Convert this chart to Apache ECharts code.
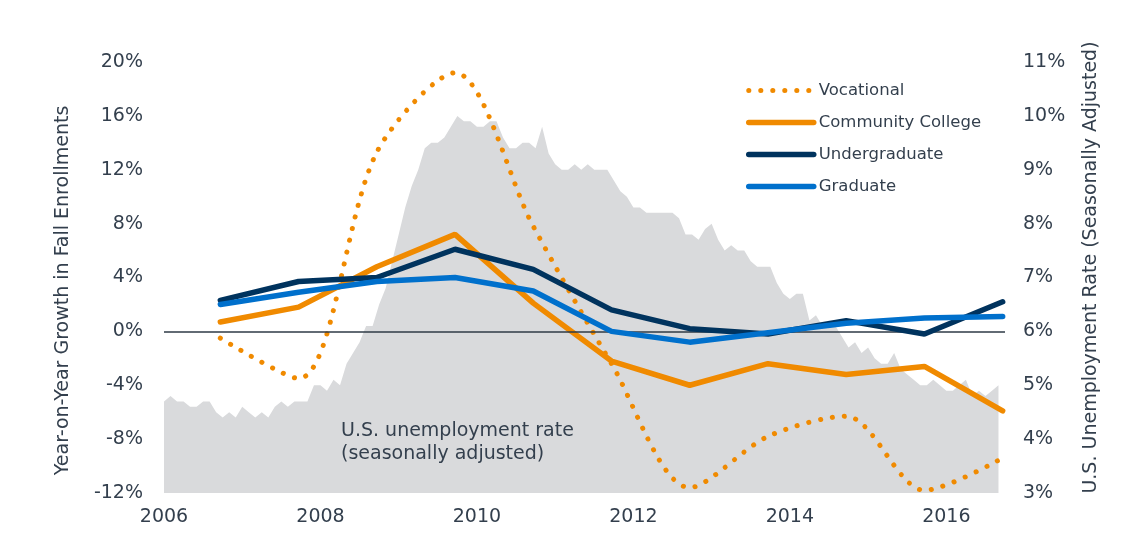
<!DOCTYPE html>
<html>
<head>
<meta charset="utf-8">
<script src="https://cdn.jsdelivr.net/npm/echarts@6/dist/echarts.min.js"></script>
<style>
  html, body { margin: 0; padding: 0; background: #fff; }
  #chart { width: 1134px; height: 538px; }
</style>
</head>
<body>
<div id="chart"></div>
<script>
'use strict';
// fall enrollment growth, one point per fall (Sept/Oct), %
const fallYears = [2006, 2007, 2008, 2009, 2010, 2011, 2012, 2013, 2014, 2015, 2016];
const vocational = [-0.5, -3.5, 13.3, 19.2, 7.8, -2.4, -11.6, -7.8, -6.3, -11.8, -9.4];
const communityCollege = [0.7, 1.8, 4.8, 7.2, 2.1, -2.2, -4.0, -2.4, -3.2, -2.6, -5.9];
const undergraduate = [2.3, 3.7, 4.0, 6.1, 4.6, 1.6, 0.2, -0.2, 0.8, -0.2, 2.2];
const graduate = [2.0, 2.9, 3.7, 4.0, 3.0, 0.0, -0.8, -0.1, 0.6, 1.0, 1.1];

// U.S. unemployment rate, seasonally adjusted, monthly from Jan 2006
const unempStartYear = 2006;
const unemployment = [
  4.7, 4.8, 4.7, 4.7, 4.6, 4.6, 4.7, 4.7, 4.5, 4.4, 4.5, 4.4,
  4.6, 4.5, 4.4, 4.5, 4.4, 4.6, 4.7, 4.6, 4.7, 4.7, 4.7, 5.0,
  5.0, 4.9, 5.1, 5.0, 5.4, 5.6, 5.8, 6.1, 6.1, 6.5, 6.8, 7.3,
  7.8, 8.3, 8.7, 9.0, 9.4, 9.5, 9.5, 9.6, 9.8, 10.0, 9.9, 9.9,
  9.8, 9.8, 9.9, 9.9, 9.6, 9.4, 9.4, 9.5, 9.5, 9.4, 9.8, 9.3,
  9.1, 9.0, 9.0, 9.1, 9.0, 9.1, 9.0, 9.0, 9.0, 8.8, 8.6, 8.5,
  8.3, 8.3, 8.2, 8.2, 8.2, 8.2, 8.2, 8.1, 7.8, 7.8, 7.7, 7.9,
  8.0, 7.7, 7.5, 7.6, 7.5, 7.5, 7.3, 7.2, 7.2, 7.2, 6.9, 6.7,
  6.6, 6.7, 6.7, 6.2, 6.3, 6.1, 6.2, 6.1, 5.9, 5.7, 5.8, 5.6,
  5.7, 5.5, 5.4, 5.4, 5.6, 5.3, 5.2, 5.1, 5.0, 5.0, 5.1, 5.0,
  4.9, 4.9, 5.0, 5.1, 4.8, 4.9, 4.8, 4.9, 5.0
];

const leftTicks = { min: -12, max: 20, interval: 4 };
const rightTicks = { min: 3, max: 11, interval: 1 };

const textColor = '#333f4d';
const font = 'DejaVu Sans';
const axisFontSize = 19;

const fallOffset = 0.72;
function fallSeries(vals) {
  return vals.map((v, i) => [fallYears[i] + fallOffset, v]);
}
const unempData = unemployment.map((v, i) => [unempStartYear + i / 12, v]);

let chart = echarts.init(document.getElementById('chart'));
chart.setOption({
  animation: false,
  grid: { left: 164, right: 129, top: 62, bottom: 45 },
  textStyle: { fontFamily: font, color: textColor },
  legend: {
    orient: 'vertical',
    left: 741,
    top: 77,
    itemWidth: 65,
    itemHeight: 12,
    itemGap: 15,
    itemStyle: { opacity: 0 },
    lineStyle: { width: 5.5, cap: 'round' },
    textStyle: { fontFamily: font, fontSize: 16.5, color: textColor },
    data: [
      { name: 'Vocational', lineStyle: { width: 5, type: [0.1, 11.9], cap: 'round' } },
      'Community College',
      'Undergraduate',
      'Graduate'
    ]
  },
  xAxis: {
    type: 'value',
    min: 2006,
    max: 2016.75,
    interval: 2,
    axisLine: { show: false },
    axisTick: { show: false },
    splitLine: { show: false },
    axisLabel: {
      fontFamily: font, fontSize: axisFontSize, color: textColor, margin: 15,
      showMaxLabel: false,
      formatter: v => String(v)
    }
  },
  yAxis: [
    {
      type: 'value',
      min: leftTicks.min, max: leftTicks.max, interval: leftTicks.interval,
      name: 'Year-on-Year Growth in Fall Enrollments',
      nameLocation: 'middle',
      nameRotate: 90,
      nameGap: 91,
      nameTextStyle: { fontFamily: font, fontSize: axisFontSize, color: textColor, padding: [0, 26, 0, 0] },
      axisLine: { show: false },
      axisTick: { show: false },
      splitLine: { show: false },
      axisLabel: { fontFamily: font, fontSize: axisFontSize, color: textColor, margin: 21, formatter: '{value}%' }
    },
    {
      type: 'value',
      position: 'right',
      min: rightTicks.min, max: rightTicks.max, interval: rightTicks.interval,
      name: 'U.S. Unemployment Rate (Seasonally Adjusted)',
      nameLocation: 'middle',
      nameRotate: 90,
      nameGap: 77,
      nameTextStyle: { fontFamily: font, fontSize: axisFontSize, color: textColor, padding: [0, 0, 0, 20] },
      axisLine: { show: false },
      axisTick: { show: false },
      splitLine: { show: false },
      axisLabel: { fontFamily: font, fontSize: axisFontSize, color: textColor, margin: 18, formatter: '{value}%' }
    }
  ],
  series: [
    {
      name: 'U.S. unemployment rate',
      type: 'line',
      yAxisIndex: 1,
      data: unempData,
      symbol: 'none',
      lineStyle: { width: 0 },
      areaStyle: { color: '#d9dadc', opacity: 1, origin: 'start' },
      silent: true,
      z: 1,
      markLine: {
        silent: true,
        symbol: 'none',
        label: { show: false },
        lineStyle: { color: '#2e3a46', width: 1.5, type: 'solid' },
        data: [{ yAxis: 5.99 }]
      }
    },
    {
      name: 'Vocational',
      type: 'line',
      data: fallSeries(vocational),
      symbol: 'none',
      smooth: 0.3,
      color: '#f08a00',
      lineStyle: { width: 5, color: '#f08a00', type: [0.1, 11.9], cap: 'round' },
      z: 3
    },
    {
      name: 'Community College',
      type: 'line',
      data: fallSeries(communityCollege),
      symbol: 'none',
      color: '#f08a00',
      lineStyle: { width: 5.5, color: '#f08a00', cap: 'round' },
      z: 4
    },
    {
      name: 'Undergraduate',
      type: 'line',
      data: fallSeries(undergraduate),
      symbol: 'none',
      color: '#00335e',
      lineStyle: { width: 5.5, color: '#00335e', cap: 'round' },
      z: 5
    },
    {
      name: 'Graduate',
      type: 'line',
      data: fallSeries(graduate),
      symbol: 'none',
      color: '#0070cc',
      lineStyle: { width: 5.5, color: '#0070cc', cap: 'round' },
      z: 6
    }
  ],
  graphic: [
    {
      type: 'text',
      left: 341,
      top: 420,
      z: 10,
      style: {
        text: 'U.S. unemployment rate\n(seasonally adjusted)',
        fontFamily: font,
        fontSize: axisFontSize,
        lineHeight: 23,
        fill: textColor
      }
    }
  ]
});
</script>
</body>
</html>
